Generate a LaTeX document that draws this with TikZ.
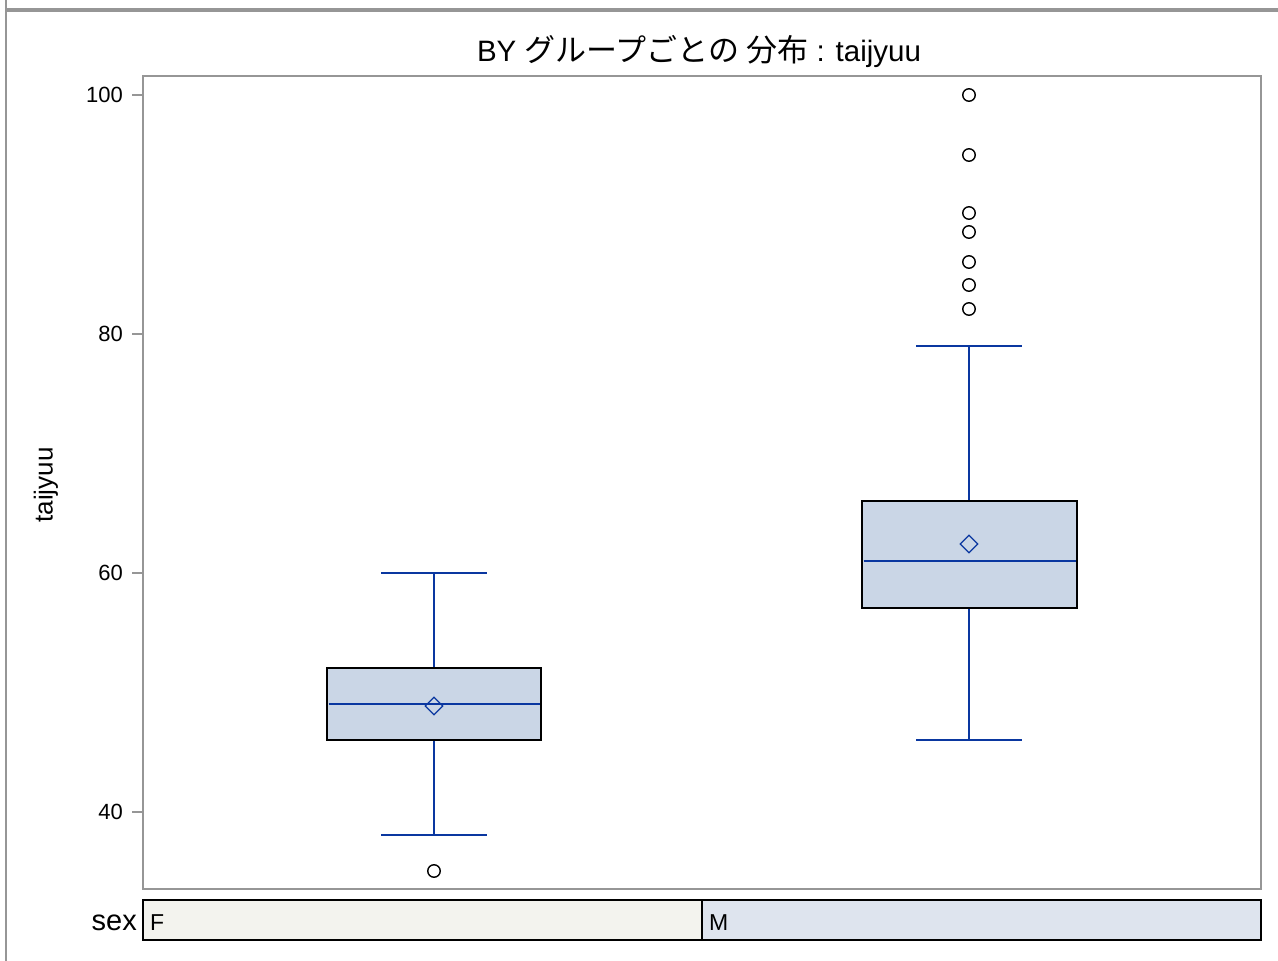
\documentclass[tikz,border=0pt]{standalone}
\usepackage{fontspec}
\usetikzlibrary{shapes.geometric}
\setmainfont{Liberation Sans}
\newfontfamily\jpfont{Noto Sans CJK JP}
\definecolor{frame}{RGB}{150,150,150}
\definecolor{wblue}{RGB}{10,55,160}
\definecolor{boxfill}{RGB}{202,214,230}
\definecolor{stripF}{RGB}{243,243,238}
\definecolor{stripM}{RGB}{222,228,238}
\newcommand{\jp}[1]{{\jpfont\fontsize{31}{32}\selectfont #1}}
\begin{document}
\begin{tikzpicture}[x=1pt,y=-1pt,
  whisk/.style={wblue,line width=2.7pt},
  boxst/.style={draw=black,fill=boxfill,line width=2.8pt},
  medst/.style={wblue,line width=2.7pt},
  meanst/.style={draw=wblue,line width=1.2pt,diamond,shape aspect=1,minimum size=18pt,inner sep=0pt},
  outl/.style={draw=black,line width=1.4pt,circle,minimum size=12.5pt,inner sep=0pt},
  tick/.style={frame,line width=2pt},
  ticklab/.style={anchor=east,font=\fontsize{22}{23}\selectfont,inner sep=0pt},
  strip/.style={draw=black,line width=2.6pt}]
\useasboundingbox (0,0) rectangle (1278,961);
% outer frame
\draw[frame,line width=3.5pt] (6,10) -- (1278,10);
\draw[frame,line width=2.5pt] (6,0) -- (6,961);
% title
\node[font=\fontsize{29.5}{30}\selectfont,inner sep=0pt] (title) at (699,51) {BY \jp{グループごとの 分布} : taijyuu};
% plot area
\draw[frame,line width=2.8pt] (143,76) rectangle (1261,889);
% y ticks
\foreach \v/\y in {100/95,80/334,60/573,40/812}{
  \draw[tick] (132,\y) -- (143,\y);
  \node[ticklab] (t\v) at (123,\y) {\v};
}
\node[rotate=90,font=\fontsize{26}{27}\selectfont] (ylab) at (46,485) {taijyuu};
% F box
\coordinate (Fwl) at (434,835); \coordinate (Fwh) at (434,573);
\draw[whisk] (381,835) -- (487,835);
\draw[whisk] (381,573) -- (487,573);
\draw[whisk] (Fwl) -- (434,740);
\draw[whisk] (Fwh) -- (434,668);
\draw[boxst] (327,668) rectangle (541,740);
\draw[medst] (328.5,704) -- (539.5,704);
\node[meanst] (Fmean) at (434,706) {};
\node[outl] (Fo1) at (434,871) {};
% M box
\draw[whisk] (916,740) -- (1022,740);
\draw[whisk] (916,346) -- (1022,346);
\draw[whisk] (969,740) -- (969,608);
\draw[whisk] (969,346) -- (969,501);
\draw[boxst] (862,501) rectangle (1077,608);
\draw[medst] (863.5,561) -- (1075.5,561);
\node[meanst] (Mmean) at (969,544) {};
\foreach \y [count=\i] in {95,155,213,232,262,285,309}{
  \node[outl] (Mo\i) at (969,\y) {};
}
% strip
\node[anchor=east,font=\fontsize{29}{30}\selectfont,inner sep=0pt] (sexlab) at (137,923) {sex};
\draw[strip,fill=stripF] (143,900) rectangle (702,940);
\draw[strip,fill=stripM] (702,900) rectangle (1261,940);
\node[anchor=west,font=\fontsize{23}{24}\selectfont,inner sep=0pt] (Flab) at (150,923) {F};
\node[anchor=west,font=\fontsize{23}{24}\selectfont,inner sep=0pt] (Mlab) at (709,923) {M};
\end{tikzpicture}
\end{document}
